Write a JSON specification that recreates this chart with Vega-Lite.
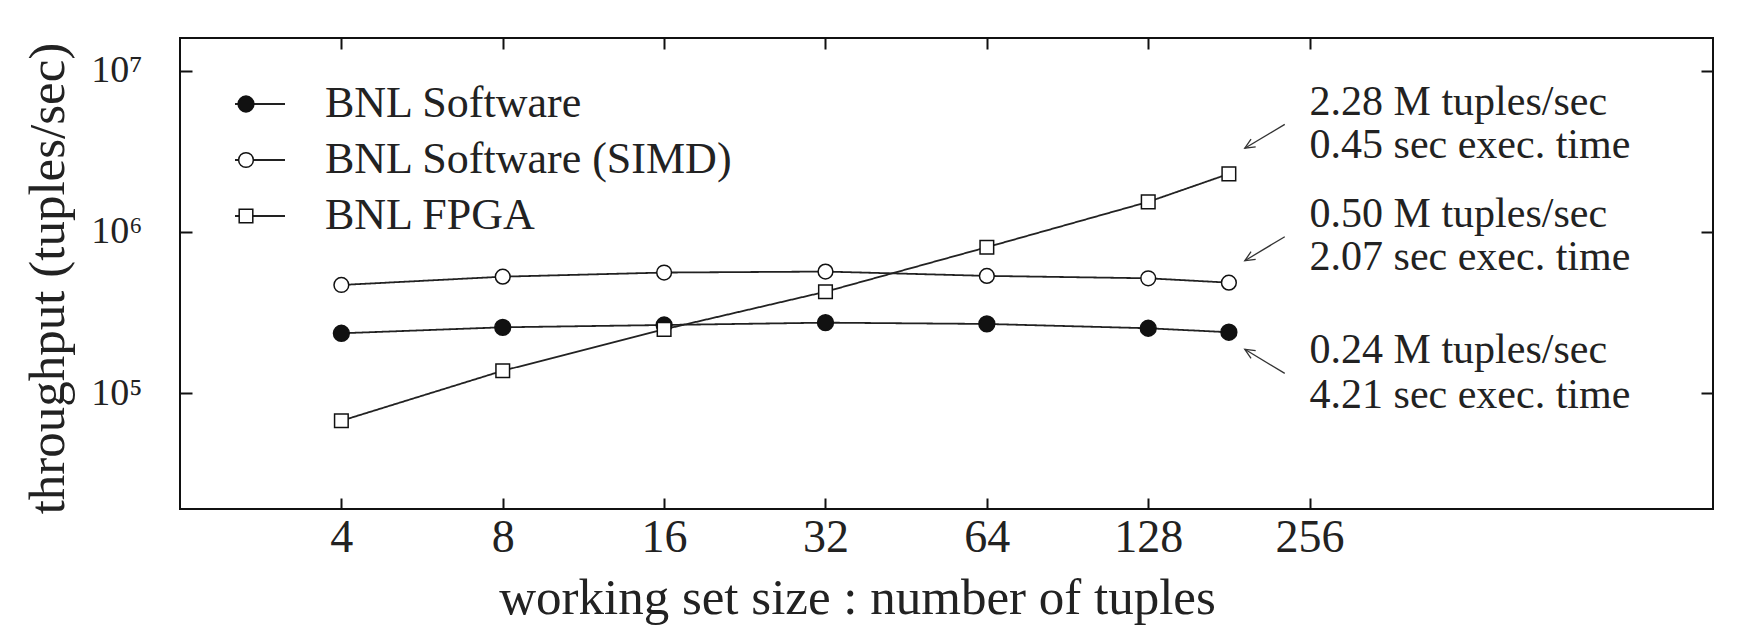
{
  "$schema": "https://vega.github.io/schema/vega-lite/v6.json",
  "width": 1533,
  "height": 471,
  "autosize": {"type": "none"},
  "padding": {"left": 180, "top": 38, "right": 33, "bottom": 130},
  "background": "white",
  "config": {
    "view": {"stroke": "#111", "strokeWidth": 2},
    "font": "Liberation Serif",
    "legend": {
      "title": null, "orient": "none", "legendY": 40, "padding": 0,
      "labelFont": "Liberation Serif", "labelFontSize": 44, "labelColor": "#222",
      "labelLimit": 800, "clipHeight": 52, "rowPadding": 4
    }
  },
  "datasets": {
    "series": [
      {"series": "BNL Software", "size": 4, "throughput": 235500},
      {"series": "BNL Software", "size": 8, "throughput": 256500},
      {"series": "BNL Software", "size": 16, "throughput": 265000},
      {"series": "BNL Software", "size": 32, "throughput": 274000},
      {"series": "BNL Software", "size": 64, "throughput": 269000},
      {"series": "BNL Software", "size": 128, "throughput": 253000},
      {"series": "BNL Software", "size": 181, "throughput": 239000},
      {"series": "BNL Software (SIMD)", "size": 4, "throughput": 469000},
      {"series": "BNL Software (SIMD)", "size": 8, "throughput": 528000},
      {"series": "BNL Software (SIMD)", "size": 16, "throughput": 560000},
      {"series": "BNL Software (SIMD)", "size": 32, "throughput": 568000},
      {"series": "BNL Software (SIMD)", "size": 64, "throughput": 534000},
      {"series": "BNL Software (SIMD)", "size": 128, "throughput": 516000},
      {"series": "BNL Software (SIMD)", "size": 181, "throughput": 485000},
      {"series": "BNL FPGA", "size": 4, "throughput": 67600},
      {"series": "BNL FPGA", "size": 8, "throughput": 138000},
      {"series": "BNL FPGA", "size": 16, "throughput": 249000},
      {"series": "BNL FPGA", "size": 32, "throughput": 426000},
      {"series": "BNL FPGA", "size": 64, "throughput": 804000},
      {"series": "BNL FPGA", "size": 128, "throughput": 1535000},
      {"series": "BNL FPGA", "size": 181, "throughput": 2290000}
    ],
    "notes": [
      {"x": 256, "y": 5302000, "label": "2.28 M tuples/sec"},
      {"x": 256, "y": 2858000, "label": "0.45 sec exec.  time"},
      {"x": 256, "y": 1077000, "label": "0.50 M tuples/sec"},
      {"x": 256, "y": 580700, "label": "2.07 sec exec.  time"},
      {"x": 256, "y": 153500, "label": "0.24 M tuples/sec"},
      {"x": 256, "y": 80700, "label": "4.21 sec exec.  time"}
    ],
    "arrows": [
      {"x": 230.1, "y": 4640000, "x2": 193.8, "y2": 3300000, "dir": "down"},
      {"x": 230.1, "y": 934000, "x2": 193.8, "y2": 663000, "dir": "down"},
      {"x": 230.1, "y": 133000, "x2": 193.8, "y2": 187400, "dir": "up"}
    ]
  },
  "layer": [
    {
      "data": {"name": "series"},
      "mark": {"type": "line", "stroke": "#222", "strokeWidth": 1.8},
      "encoding": {
        "x": {
          "field": "size", "type": "quantitative",
          "scale": {"type": "log", "base": 2, "domain": [2, 1448], "nice": false},
          "axis": {
            "orient": "bottom", "values": [4, 8, 16, 32, 64, 128, 256], "format": "d",
            "domain": false, "grid": false, "tickSize": -11, "tickWidth": 2, "tickColor": "#111",
            "labelFontSize": 46, "labelPadding": 17, "labelColor": "#222", "labelFlush": false, "labelOverlap": false,
            "title": "working set size : number of tuples", "titleFontSize": 51, "titleFontWeight": "normal",
            "titleColor": "#222", "titleX": 677, "titleY": 104, "titleBaseline": "alphabetic", "titleAlign": "center"
          }
        },
        "y": {
          "field": "throughput", "type": "quantitative",
          "scale": {"type": "log", "domain": [19200, 15900000], "nice": false},
          "axis": {
            "orient": "left", "values": [100000, 1000000, 10000000],
            "labelExpr": "datum.value >= 5000000 ? '10⁷' : datum.value >= 500000 ? '10⁶' : '10⁵'",
            "domain": false, "grid": false, "tickSize": -12, "tickWidth": 2, "tickColor": "#111",
            "labelFontSize": 38, "labelPadding": 50, "labelColor": "#222", "labelFlush": false, "labelOverlap": false,
            "title": "throughput (tuples/sec)", "titleFontSize": 51, "titleFontWeight": "normal",
            "titleColor": "#222", "titleAngle": -90, "titleX": -117, "titleY": 240,
            "titleBaseline": "alphabetic", "titleAlign": "center"
          }
        },
        "strokeDash": {
          "field": "series", "type": "nominal",
          "scale": {"domain": ["BNL Software", "BNL Software (SIMD)", "BNL FPGA", "-"], "range": [[1, 0], [1, 0], [1, 0], [1, 0]]},
          "legend": {
            "values": ["BNL Software", "BNL Software (SIMD)", "BNL FPGA"],
            "legendX": 54, "symbolType": "stroke", "symbolSize": 2500, "symbolStrokeWidth": 1.8,
            "symbolStrokeColor": "#222", "labelOffset": 39
          }
        }
      }
    },
    {
      "data": {"name": "series"},
      "mark": {"type": "point", "filled": true, "opacity": 1, "stroke": "#111", "strokeWidth": 1.5},
      "encoding": {
        "x": {
          "field": "size", "type": "quantitative",
          "axis": {"orient": "top", "values": [4, 8, 16, 32, 64, 128, 256], "labels": false, "domain": false,
                   "grid": false, "tickSize": -11, "tickWidth": 2, "tickColor": "#111", "title": null}
        },
        "y": {
          "field": "throughput", "type": "quantitative",
          "axis": {"orient": "right", "values": [100000, 1000000, 10000000], "labels": false, "domain": false,
                   "grid": false, "tickSize": -12, "tickWidth": 2, "tickColor": "#111", "title": null}
        },
        "fill": {
          "field": "series", "type": "nominal",
          "scale": {"domain": ["BNL Software", "BNL Software (SIMD)", "BNL FPGA"], "range": ["#111", "white", "white"]},
          "legend": {"legendX": 44, "labelExpr": "' '", "symbolStrokeColor": "#111", "symbolStrokeWidth": 1.5, "labelOffset": 39}
        },
        "shape": {
          "field": "series", "type": "nominal",
          "scale": {"domain": ["BNL Software", "BNL Software (SIMD)", "BNL FPGA"], "range": ["circle", "circle", "square"]}
        },
        "size": {
          "field": "series", "type": "nominal",
          "scale": {"domain": ["BNL Software", "BNL Software (SIMD)", "BNL FPGA"], "range": [250, 185, 175]}
        }
      }
    },
    {
      "data": {"name": "arrows"},
      "mark": {"type": "rule", "stroke": "#333", "strokeWidth": 1.3},
      "encoding": {
        "x": {"field": "x", "type": "quantitative", "axis": null},
        "y": {"field": "y", "type": "quantitative", "axis": null},
        "x2": {"field": "x2"},
        "y2": {"field": "y2"}
      }
    },
    {
      "data": {"name": "arrows"},
      "mark": {"type": "point", "filled": false, "stroke": "#333", "strokeWidth": 1.3, "opacity": 1,
               "shape": "M-1,-0.45L0,0L-1,0.45", "size": 400},
      "encoding": {
        "x": {"field": "x2", "type": "quantitative", "axis": null},
        "y": {"field": "y2", "type": "quantitative", "axis": null},
        "angle": {"field": "dir", "type": "nominal", "scale": {"domain": ["down", "up"], "range": [149, 211]}, "legend": null}
      }
    },
    {
      "data": {"name": "notes"},
      "mark": {"type": "text", "align": "left", "baseline": "alphabetic", "font": "Liberation Serif",
               "fontSize": 42, "color": "#222"},
      "encoding": {
        "x": {"field": "x", "type": "quantitative", "axis": null},
        "y": {"field": "y", "type": "quantitative", "axis": null},
        "text": {"field": "label"}
      }
    }
  ],
  "resolve": {"axis": {"x": "independent", "y": "independent"}}
}
